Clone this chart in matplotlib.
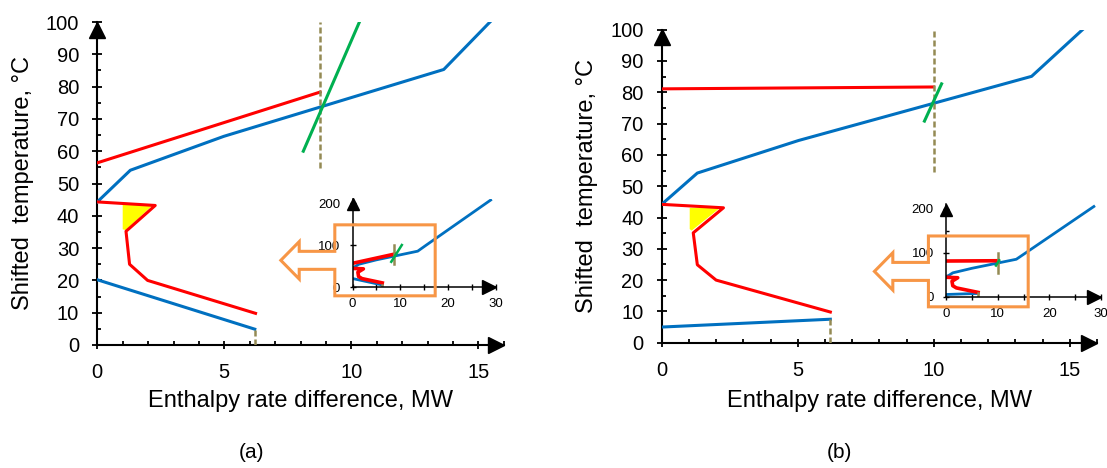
import matplotlib
matplotlib.use("Agg")
import matplotlib.pyplot as plt
from matplotlib.patches import Polygon
from matplotlib.transforms import ScaledTranslation, IdentityTransform
from matplotlib.ticker import MultipleLocator

plt.rcParams['font.family'] = ['Liberation Sans', 'DejaVu Sans']

# ---- panel (a) ----
a_hot_x = [0, 1.30, 4.98, 13.64, 15.46, 28.9]
a_hot_y = [44.3, 54.1, 64.6, 85.3, 100.0, 207]
a_top_x = [0, 8.77]
a_top_y = [56.4, 78.3]
a_green_x = [8.11, 10.32]
a_green_y = [60.0, 100.0]
a_dash_x = 8.77
a_dash_y = [54.8, 100]
a_red_x = [0, 2.28, 1.13, 1.27, 1.98, 6.23]
a_red_y = [44.3, 43.2, 35.2, 25.0, 20.0, 9.8]
a_blue_x = [0, 6.2]
a_blue_y = [20.2, 4.9]
a_end_x = 6.2
a_end_y = [0, 4.9]
a_pocket_x = [1.0, 2.2, 1.12, 1.0]
a_pocket_y = [43.4, 43.4, 35.6, 35.8]
a_box = [-3.7, 17.3, -21, 148]      # zoom frame in the inset (x0, x1, y0, y1)

# ---- panel (b) ----
b_hot_x = [0, 1.31, 5.03, 13.6, 15.47, 28.6]
b_hot_y = [44.2, 54.2, 64.6, 85.1, 100.0, 205]
b_top_x = [0, 9.99]
b_top_y = [81.1, 81.7]
b_green_x = [9.66, 10.29]
b_green_y = [70.8, 82.7]
b_dash_x = 10.0
b_dash_y = [54.5, 100]
b_red_x = [0, 2.27, 1.16, 1.31, 2.0, 6.2]
b_red_y = [44.2, 43.1, 35.1, 24.9, 20.0, 9.8]
b_blue_x = [0, 6.2]
b_blue_y = [5.0, 7.5]
b_end_x = 6.2
b_end_y = [0, 7.5]
b_pocket_x = [1.03, 2.15, 1.1, 1.03]
b_pocket_y = [43.1, 43.1, 35.8, 36.3]
b_box = [-3.4, 15.9, -23, 138]

RED = '#FF0000'
BLUE = '#0070C0'
GREEN = '#00B050'
OLIVE = '#948A54'
ORANGE = '#F79646'

W, H = 1107, 468
fig = plt.figure(figsize=(W / 100, H / 100), dpi=100)


def arrow_heads(ax, xsize, ysize):
    # black triangles at the end of both axes
    tr = fig.dpi_scale_trans
    ax.plot(1, 0, '>', color='k', ms=xsize, clip_on=False, zorder=5,
            transform=ax.transAxes + ScaledTranslation(-xsize / 2 / 72, 0, tr))
    ax.plot(0, 1, '^', color='k', ms=ysize, clip_on=False, zorder=5,
            transform=ax.transAxes + ScaledTranslation(0, -ysize / 2 / 72, tr))


def draw_main(rect, d, ylab_x, xlab_y):
    ax = fig.add_axes(rect)
    ax.set_xlim(0, 16)
    ax.set_ylim(0, 100)
    ax.fill(d['pocket_x'], d['pocket_y'], color='#FFFF00', lw=0, zorder=2)
    ax.plot(d['hot_x'], d['hot_y'], color=BLUE, lw=2.2, zorder=3)
    ax.plot(d['top_x'], d['top_y'], color=RED, lw=2.2, zorder=3)
    ax.plot(d['red_x'], d['red_y'], color=RED, lw=2.2, zorder=3)
    ax.plot(d['blue_x'], d['blue_y'], color=BLUE, lw=2.2, zorder=3)
    ax.plot([d['dash_x']] * 2, d['dash_y'], color=OLIVE, lw=1.8, dashes=(2.4, 1.2), zorder=3)
    ax.plot([d['end_x']] * 2, d['end_y'], color=OLIVE, lw=1.8, dashes=(2.4, 1.2), zorder=3)
    ax.plot(d['green_x'], d['green_y'], color=GREEN, lw=2.2, zorder=4)

    for s in ['top', 'right']:
        ax.spines[s].set_visible(False)
    for s in ['left', 'bottom']:
        ax.spines[s].set_linewidth(1.5)
    ax.xaxis.set_major_locator(MultipleLocator(5))
    ax.xaxis.set_minor_locator(MultipleLocator(1))
    ax.yaxis.set_major_locator(MultipleLocator(10))
    ax.yaxis.set_minor_locator(MultipleLocator(5))
    ax.tick_params(axis='x', which='major', direction='inout', length=6, width=1.3,
                   labelsize=14.5, pad=10)
    ax.tick_params(axis='x', which='minor', direction='in', length=3.2, width=1.3)
    ax.tick_params(axis='y', which='major', direction='inout', length=7.2, width=1.3,
                   labelsize=14.5, pad=9.5)
    ax.tick_params(axis='y', which='minor', direction='in', length=3.2, width=1.3)
    ax.set_xlabel('Enthalpy rate difference, MW', fontsize=17, va='center')
    ax.set_ylabel('Shifted  temperature, °C', fontsize=17, va='center')
    ax.xaxis.set_label_coords(0.5, xlab_y)
    ax.yaxis.set_label_coords(ylab_x, 0.5)
    ax.patch.set_alpha(0)
    arrow_heads(ax, 11, 11)
    return ax


def draw_inset(rect, d, box):
    ax = fig.add_axes(rect)
    ax.set_xlim(0, 30)
    ax.set_ylim(0, 210)
    ax.plot(d['hot_x'], d['hot_y'], color=BLUE, lw=2.0)
    ax.plot(d['blue_x'], d['blue_y'], color=BLUE, lw=2.0)
    ax.plot(d['top_x'], d['top_y'], color=RED, lw=2.6)
    ax.plot(d['red_x'], d['red_y'], color=RED, lw=2.6)
    ax.plot([d['dash_x']] * 2, d['dash_y'], color=OLIVE, lw=1.8)
    ax.plot([d['end_x']] * 2, d['end_y'], color=OLIVE, lw=1.8)
    ax.plot(d['green_x'], d['green_y'], color=GREEN, lw=1.8)
    for s in ['top', 'right']:
        ax.spines[s].set_visible(False)
    for s in ['left', 'bottom']:
        ax.spines[s].set_linewidth(1.1)
    ax.xaxis.set_major_locator(MultipleLocator(10))
    ax.xaxis.set_minor_locator(MultipleLocator(5))
    ax.yaxis.set_major_locator(MultipleLocator(100))
    ax.yaxis.set_minor_locator(MultipleLocator(50))
    ax.tick_params(axis='x', which='both', direction='inout', length=4.5, width=1.0,
                   labelsize=9.5, pad=6)
    ax.tick_params(axis='y', which='major', direction='inout', length=5, width=1.0,
                   labelsize=9.5, pad=6.3)
    ax.tick_params(axis='y', which='minor', direction='in', length=2.5, width=1.0)
    ax.patch.set_alpha(0)
    arrow_heads(ax, 10.5, 8)

    # orange zoom frame with an open arrow pointing to the main chart
    fig.canvas.draw()
    x0, y0 = ax.transData.transform((box[0], box[2]))
    x1, y1 = ax.transData.transform((box[1], box[3]))
    yc = (y0 + y1) / 2
    tip, head, hh, sh = 54, 18.4, 18.7, 9.0
    pts = [(x0, yc + sh), (x0, y1), (x1, y1), (x1, y0), (x0, y0), (x0, yc - sh),
           (x0 - tip + head, yc - sh), (x0 - tip + head, yc - hh), (x0 - tip, yc),
           (x0 - tip + head, yc + hh), (x0 - tip + head, yc + sh)]
    fig.add_artist(Polygon(pts, closed=True, fill=False, ec=ORANGE, lw=2.2,
                           joinstyle='miter', transform=IdentityTransform(), zorder=10))
    return ax


panel_a = dict(hot_x=a_hot_x, hot_y=a_hot_y, top_x=a_top_x, top_y=a_top_y,
               green_x=a_green_x, green_y=a_green_y, dash_x=a_dash_x, dash_y=a_dash_y,
               red_x=a_red_x, red_y=a_red_y, blue_x=a_blue_x, blue_y=a_blue_y,
               end_x=a_end_x, end_y=a_end_y, pocket_x=a_pocket_x, pocket_y=a_pocket_y)
panel_b = dict(hot_x=b_hot_x, hot_y=b_hot_y, top_x=b_top_x, top_y=b_top_y,
               green_x=b_green_x, green_y=b_green_y, dash_x=b_dash_x, dash_y=b_dash_y,
               red_x=b_red_x, red_y=b_red_y, blue_x=b_blue_x, blue_y=b_blue_y,
               end_x=b_end_x, end_y=b_end_y, pocket_x=b_pocket_x, pocket_y=b_pocket_y)

draw_main([97.3 / W, 123 / H, 406.4 / W, 323 / H], panel_a, -0.184, -0.173)
draw_main([661.7 / W, 125.3 / H, 435.2 / W, 313 / H], panel_b, -0.171, -0.186)
draw_inset([352.5 / W, 181 / H, 143.4 / W, 88.2 / H], panel_a, a_box)
draw_inset([946 / W, 171.3 / H, 155.1 / W, 92.4 / H], panel_b, b_box)

fig.text(252 / W, 15 / H, '(a)', fontsize=15, ha='center', va='center')
fig.text(839 / W, 15 / H, '(b)', fontsize=15, ha='center', va='center')

fig.savefig('out.png', dpi=100)
